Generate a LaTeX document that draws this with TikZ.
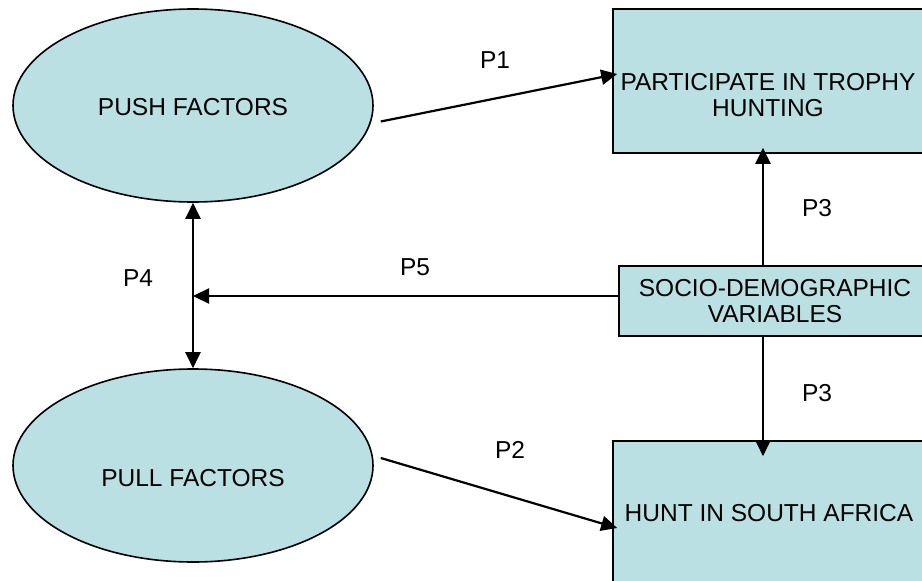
\documentclass[tikz,border=0pt]{standalone}
\usepackage{fontspec}
\setmainfont{Liberation Sans}
\usetikzlibrary{shapes.geometric,arrows.meta}
\definecolor{boxfill}{RGB}{186,224,228}
\begin{document}
\begin{tikzpicture}[x=1pt,y=-1pt,
  font=\fontsize{24.5}{26}\selectfont,
  filled/.style={draw, line width=1.6pt, fill=boxfill},
  ell/.style={filled, ellipse, minimum width=360pt, minimum height=193pt, inner sep=0pt},
  rbox/.style={filled, rectangle, inner sep=0pt},
  txt/.style={inner sep=0pt, align=center},
  link/.style={line width=2.2pt, -{Triangle[length=16pt,width=15pt]}},
  dlink/.style={line width=2.2pt, {Triangle[length=16pt,width=15pt]}-{Triangle[length=16pt,width=15pt]}},
  lbl/.style={inner sep=0pt}]
\useasboundingbox (0,0) rectangle (922,581);
\clip (0,0) rectangle (922,581);
% shapes
\node[ell] (push) at (193,105.5) {};
\node[txt] (pushtxt) at (193,107) {PUSH FACTORS};
\node[ell] (pull) at (193,465.5) {};
\node[txt] (pulltxt) at (193,478) {PULL FACTORS};
\node[rbox, minimum width=310pt, minimum height=144pt] (top) at (768,81) {};
\node[txt] (toptxt) at (768,95) {PARTICIPATE IN TROPHY\\HUNTING};
\node[rbox, minimum width=312pt, minimum height=70pt, align=center] (socio) at (775,301) {SOCIO-DEMOGRAPHIC\\VARIABLES};
\node[rbox, minimum width=312pt, minimum height=159pt] (hunt) at (769,520.5) {};
\node[txt] (hunttxt) at (769,513) {HUNT IN SOUTH AFRICA};
\coordinate (p3x) at (763,0);
% connectors
\draw[link] ([shift={(7pt,-16pt)}]push.east) -- ([shift={(5pt,7pt)}]top.west);
\draw[link] ([shift={(7pt,7.5pt)}]pull.east) -- ([shift={(5pt,-7.5pt)}]hunt.west);
\draw[dlink] (push.south) -- (pull.north);
\draw[link] ([yshift=5pt]socio.west) -- ([yshift=5pt]socio.west -| push.south);
\draw[link] (socio.north -| p3x) -- ([yshift=6pt]top.south -| p3x);
\draw[link] (socio.south -| p3x) -- ([yshift=-16pt]hunt.north -| p3x);
% labels
\node[lbl] (l1) at (495,60) {P1};
\node[lbl] (l2) at (510,450) {P2};
\node[lbl] (l3a) at (817,208) {P3};
\node[lbl] (l3b) at (817,393) {P3};
\node[lbl] (l4) at (138,278) {P4};
\node[lbl] (l5) at (415,267) {P5};
\end{tikzpicture}
\end{document}
